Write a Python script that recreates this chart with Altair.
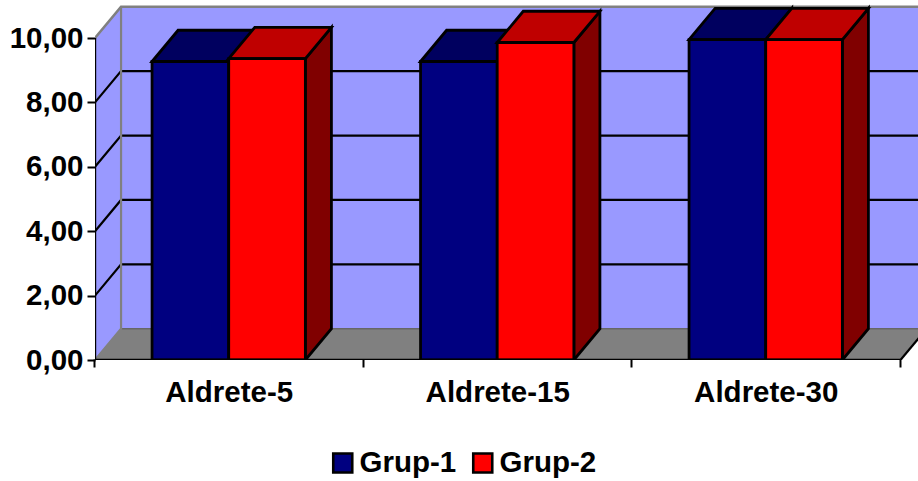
import altair as alt
import pandas as pd

# Readings for each assessment and group
categories = ["Aldrete-5", "Aldrete-15", "Aldrete-30"]
grup_1 = [9.27, 9.27, 9.95]
grup_2 = [9.36, 9.86, 9.95]
series = ["Grup-1", "Grup-2"]
value_ticks = [0, 2, 4, 6, 8, 10]
wall_grid = [2, 4, 6, 8]

# Oblique projection and bar placement, in axis units
DX, DY = 0.097, 0.97
BAR_START, BAR_W = 0.2125, 0.2855
X_MAX = 823 / 268.5
Y_MAX = 360 / 32.2

FONT = "Liberation Sans"
FONT_SIZE = 29.5
EDGE = 2.8

x_scale = alt.Scale(domain=[0, X_MAX], nice=False, zero=False)
y_scale = alt.Scale(domain=[0, Y_MAX], nice=False, zero=False)

# Every layer shares these two axes so that they merge into one pair
x_axis = alt.Axis(
    values=list(range(len(categories) + 1)), labels=False, title=None, grid=False,
    domain=False, ticks=True, tickSize=8, tickWidth=2, tickColor="black", translate=-0.5,
)
y_axis = alt.Axis(
    values=value_ticks, title=None, grid=False, domain=False, tickSize=8,
    tickWidth=2, tickColor="black", labelPadding=4, labelFont=FONT,
    labelFontSize=FONT_SIZE, labelFontWeight="bold", labelColor="black",
    labelExpr="replace(format(datum.value, '.2f'), '.', ',')",
)
X = alt.X("x:Q", scale=x_scale, axis=x_axis)
Y = alt.Y("y:Q", scale=y_scale, axis=y_axis)

front_fill = {"Grup-1": "#000080", "Grup-2": "#FF0000"}
top_fill = {"Grup-1": "#00005F", "Grup-2": "#BF0000"}
side_fill = {"Grup-1": "#000060", "Grup-2": "#800000"}

fronts, tops, sides = [], [], []
for s_i, (name, vals) in enumerate(zip(series, [grup_1, grup_2])):
    for c_i, (cat, v) in enumerate(zip(categories, vals)):
        xl = c_i + BAR_START + s_i * BAR_W
        xr = xl + BAR_W
        key = f"{name}|{cat}"
        fronts.append(dict(x=xl, x2=xr, y=0, y2=v, grup=name))
        tops += [
            dict(k=key, s=name, x=xl, y=v, y2=v),
            dict(k=key, s=name, x=xl + DX, y=v + DY, y2=v),
            dict(k=key, s=name, x=xr, y=v + DY, y2=v),
            dict(k=key, s=name, x=xr + DX, y=v + DY, y2=v + DY),
        ]
        sides += [
            dict(k=key, s=name, x=xr, y=v, y2=0),
            dict(k=key, s=name, x=xr + DX, y=v + DY, y2=DY),
        ]
fronts, tops, sides = map(pd.DataFrame, (fronts, tops, sides))


def face(df, fill, stroked=True):
    """Filled polygon face drawn as an area, optionally with a black edge."""
    style = dict(stroke="black", strokeWidth=EDGE, strokeJoin="miter") if stroked else {}
    return (
        alt.Chart(df)
        .mark_area(clip=True, fill=fill, **style)
        .encode(x=X, y=Y, y2="y2:Q", detail="k:N")
    )


def polyline(rows, color, width):
    return (
        alt.Chart(pd.DataFrame(rows))
        .mark_line(clip=True, color=color, strokeWidth=width, strokeJoin="miter")
        .encode(x=X, y=Y, detail="k:N", order="i:Q")
    )


def path(key, pts):
    return [dict(k=key, i=i, x=x, y=y) for i, (x, y) in enumerate(pts)]


# Walls and floor of the box
top_value = value_ticks[-1]
end = len(categories)
back_wall = (
    alt.Chart(pd.DataFrame([dict(x=DX, x2=X_MAX, y=DY, y2=top_value + DY)]))
    .mark_rect(clip=True, fill="#9999FF")
    .encode(x=X, x2="x2:Q", y=Y, y2="y2:Q")
)
left_wall = face(
    pd.DataFrame([
        dict(k="w", x=0, y=top_value, y2=0),
        dict(k="w", x=DX, y=top_value + DY, y2=DY),
    ]),
    "#9999FF", stroked=False,
)
floor = face(
    pd.DataFrame([
        dict(k="f", x=0, y=0, y2=0),
        dict(k="f", x=DX, y=DY, y2=0),
        dict(k="f", x=end, y=DY, y2=0),
        dict(k="f", x=end + DX, y=DY, y2=DY),
    ]),
    "#808080", stroked=False,
)

grid_rows = []
for g in wall_grid:
    grid_rows += path(f"g{g}", [(0, g), (DX, g + DY), (X_MAX, g + DY)])
grid = polyline(grid_rows, "black", 2.2)

top_edge = polyline(
    path("t", [(0, top_value), (DX, top_value + DY), (X_MAX, top_value + DY)]),
    "#808080", 2.6,
)
wall_edge = polyline(path("e", [(0, 0), (DX, DY), (DX, top_value + DY)]), "#808080", 2.2)
floor_back = polyline(path("b", [(DX, DY), (X_MAX, DY)]), "#666666", 1.6)
floor_right = polyline(path("r", [(end, 0), (end + DX, DY)]), "black", 2.2)
x_line = polyline(path("x", [(0, 0), (end, 0)]), "black", 2.4)
y_line = polyline(path("y", [(0, 0), (0, top_value)]), "black", 2.4)

layers = [back_wall, left_wall, grid, floor, floor_back, wall_edge, top_edge, floor_right]
for name in series:
    layers.append(face(sides[sides.s == name], side_fill[name]))
    layers.append(face(tops[tops.s == name], top_fill[name]))

bars = (
    alt.Chart(fronts)
    .mark_rect(clip=True, stroke="black", strokeWidth=EDGE)
    .encode(
        x=X, x2="x2:Q", y=Y, y2="y2:Q",
        color=alt.Color(
            "grup:N",
            scale=alt.Scale(domain=series, range=[front_fill[s] for s in series]),
            legend=alt.Legend(
                title=None, orient="none", legendX=233, legendY=448, columns=2,
                symbolType="square", symbolSize=361, symbolStrokeColor="black",
                symbolStrokeWidth=2.6, symbolOpacity=1, labelFont=FONT,
                labelFontSize=FONT_SIZE, labelFontWeight="bold", labelColor="black",
                labelOffset=2, columnPadding=11, padding=0, labelLimit=200,
            ),
        ),
    )
)

labels = (
    alt.Chart(pd.DataFrame({"x": [i + 0.5 for i in range(end)], "t": categories}))
    .mark_text(font=FONT, fontSize=FONT_SIZE, fontWeight="bold", color="black", baseline="middle")
    .encode(x=X, y=alt.value(393), text="t:N")
)

chart = (
    alt.layer(*layers, bars, x_line, y_line, labels)
    .properties(
        width=823,
        height=360,
        padding={"left": 95, "top": 0, "right": 0, "bottom": 121},
        autosize=alt.AutoSizeParams(type="none"),
        background="white",
    )
    .configure_view(stroke=None)
)

chart.save("out.html", embed_options={"renderer": "svg", "actions": False})
